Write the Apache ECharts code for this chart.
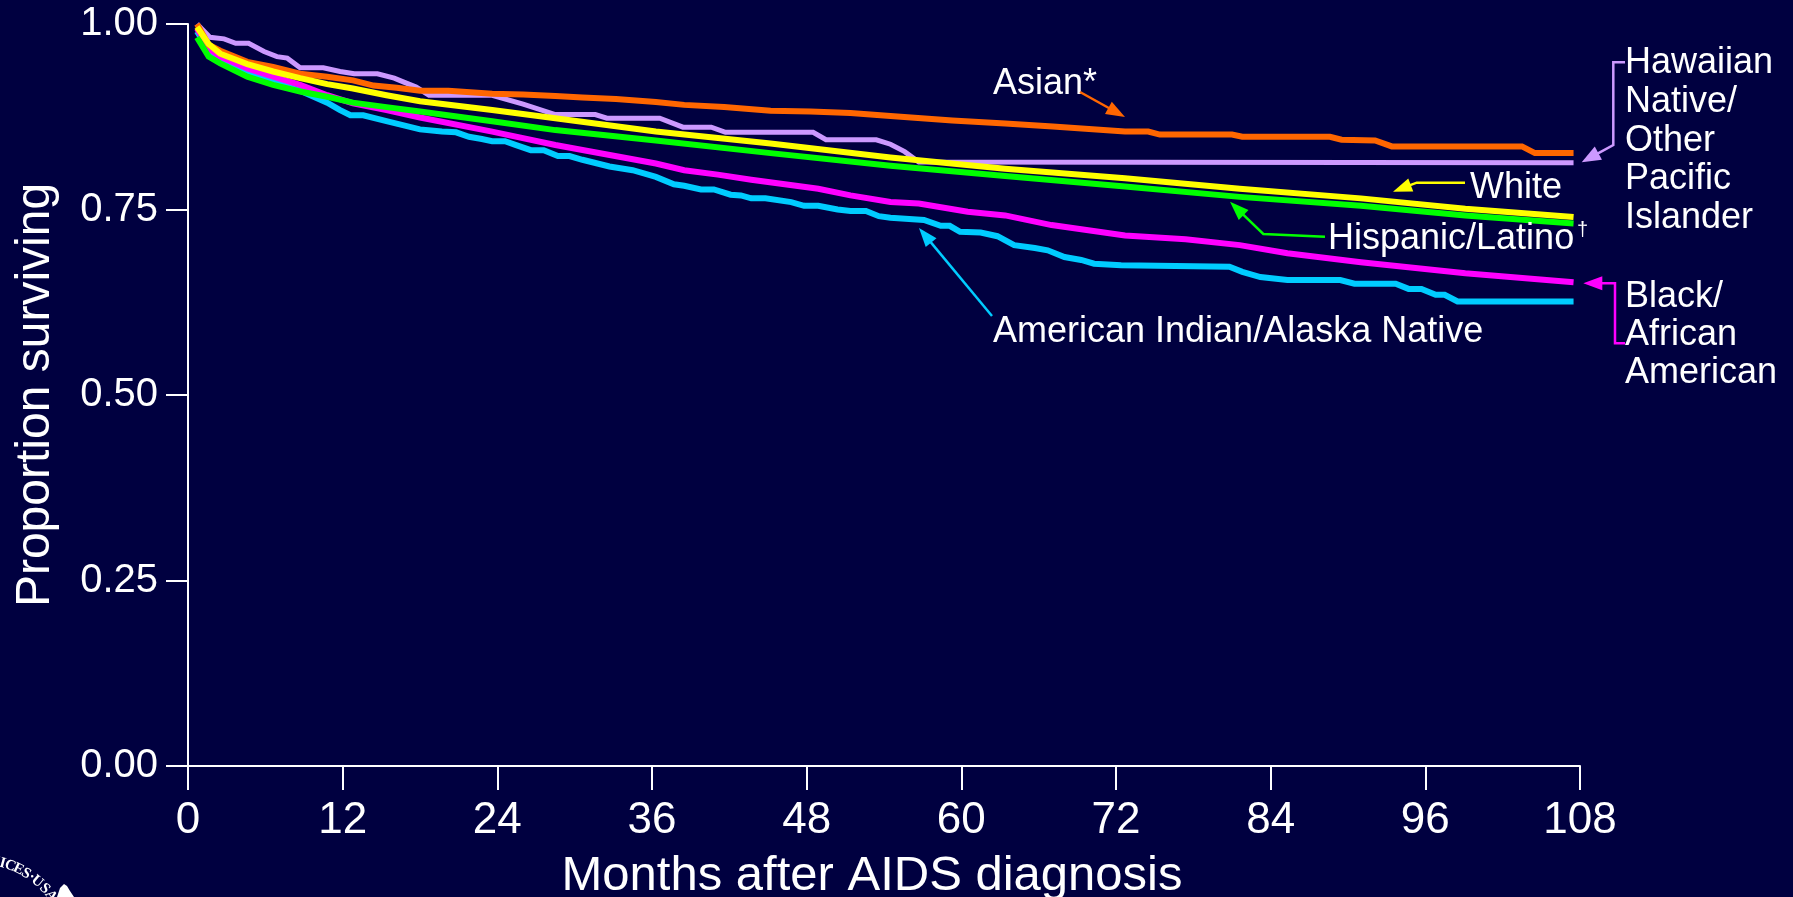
<!DOCTYPE html>
<html>
<head>
<meta charset="utf-8">
<script src="https://cdn.jsdelivr.net/npm/echarts@6/dist/echarts.min.js"></script>
<style>
html,body{margin:0;padding:0;background:#000040;}
#chart{width:1793px;height:897px;}
</style>
</head>
<body>
<div id="chart"></div>
<script>
// ---- data (months after diagnosis, proportion surviving) ----
const xTicks = [0, 12, 24, 36, 48, 60, 72, 84, 96, 108];
const yTicks = [0, 0.25, 0.5, 0.75, 1.0];

const asian = [[0.7,1.0],[1.6,0.972],[2.5,0.964],[4.6,0.949],[6.6,0.942],[8.7,0.933],[10.8,0.929],[12.8,0.924],[14.4,0.917],[16.2,0.914],[18,0.910],[20.2,0.910],[23.6,0.906],[26,0.905],[28.5,0.903],[30.6,0.901],[33.2,0.899],[36.3,0.895],[38.5,0.891],[41.6,0.888],[45.2,0.883],[48.3,0.882],[51.4,0.880],[54.5,0.876],[59.3,0.870],[63.4,0.866],[67.1,0.862],[72.7,0.855],[74.5,0.855],[75.4,0.851],[81,0.851],[81.8,0.848],[88.6,0.848],[89.5,0.844],[92.1,0.843],[93.4,0.835],[103.5,0.835],[104.5,0.826],[107.5,0.826]];

const hawaiian = [[0.7,1.0],[1.7,0.982],[2.8,0.980],[3.7,0.974],[4.7,0.974],[5.9,0.963],[6.9,0.956],[7.7,0.954],[8.7,0.941],[10.5,0.941],[11.8,0.936],[12.9,0.933],[14.7,0.933],[16,0.927],[16.7,0.922],[17.7,0.915],[18.7,0.904],[23.6,0.904],[26,0.892],[28.5,0.878],[31.6,0.878],[32.5,0.873],[36.6,0.873],[38.4,0.861],[40.6,0.861],[41.7,0.854],[48.5,0.854],[49.5,0.844],[53.4,0.844],[54.5,0.838],[55.6,0.828],[56.7,0.814],[107.5,0.813]];

const white = [[0.7,0.996],[1.6,0.973],[2.5,0.960],[4.6,0.946],[6.6,0.936],[8.7,0.927],[10.8,0.919],[12.8,0.913],[15.4,0.904],[18,0.896],[23.6,0.884],[28.5,0.873],[36.3,0.855],[45.2,0.839],[54.5,0.820],[63.4,0.805],[72.7,0.792],[81.6,0.778],[91,0.765],[99.1,0.751],[107.5,0.740]];

const hispanic = [[0.7,0.982],[1.6,0.956],[2.5,0.947],[4.6,0.929],[6.6,0.918],[8.7,0.909],[10.8,0.902],[12.8,0.894],[15.4,0.888],[18,0.882],[23.6,0.869],[28.5,0.857],[36.3,0.843],[45.2,0.826],[54.5,0.809],[63.4,0.795],[72.7,0.781],[81.6,0.767],[91,0.755],[99.1,0.742],[107.5,0.731]];

const black = [[0.7,0.994],[1.6,0.967],[2.5,0.956],[4.6,0.940],[6.6,0.929],[8.7,0.918],[10.8,0.904],[12.8,0.893],[15.4,0.884],[18,0.874],[23.6,0.855],[28.5,0.837],[36.3,0.812],[38.5,0.803],[41.1,0.797],[43.7,0.790],[48.9,0.778],[51.4,0.769],[54.5,0.760],[56.7,0.758],[60.5,0.747],[63.4,0.742],[67,0.729],[72.7,0.715],[77.4,0.710],[81.6,0.702],[85.3,0.691],[91,0.679],[99.1,0.664],[107.5,0.652]];

const amIndian = [[0.7,0.99],[1.6,0.965],[2.5,0.954],[4.6,0.937],[6.6,0.922],[8.7,0.910],[10.8,0.894],[11.8,0.884],[12.6,0.877],[13.6,0.877],[15.4,0.869],[18,0.858],[19.7,0.855],[20.8,0.854],[21.8,0.848],[22.8,0.845],[23.6,0.842],[24.6,0.842],[25.4,0.837],[26.6,0.830],[27.6,0.830],[28.7,0.822],[29.6,0.822],[30.6,0.817],[32.7,0.808],[34.5,0.803],[36.3,0.794],[37.7,0.784],[38.5,0.782],[39.8,0.777],[40.8,0.777],[42.1,0.770],[42.9,0.769],[43.7,0.765],[44.8,0.765],[46.8,0.760],[47.8,0.755],[48.9,0.755],[50.4,0.750],[51.4,0.748],[52.6,0.748],[53.6,0.741],[54.5,0.739],[57.1,0.736],[58.4,0.728],[59.1,0.728],[59.9,0.720],[61.5,0.719],[62.8,0.714],[64.1,0.702],[65.7,0.698],[66.7,0.695],[68,0.686],[69.3,0.682],[70.3,0.677],[72.4,0.675],[80.8,0.673],[81.8,0.666],[83.2,0.659],[85.3,0.655],[89.4,0.655],[90.5,0.650],[93.7,0.650],[94.7,0.643],[95.7,0.643],[96.8,0.635],[97.5,0.635],[98.5,0.626],[107.5,0.626]];

// ---- styling / annotations ----
const FONT = '"Liberation Sans", Arial, Helvetica, sans-serif';
const C = {
  asian: '#FF6600', hawaiian: '#CC99FF', white: '#FFFF00',
  hispanic: '#00FF00', black: '#FF00FF', amIndian: '#00CCFF'
};

function arrow(points, color, width, headLen, headW) {
  const n = points.length;
  const tip = points[n - 1], prev = points[n - 2];
  const dx = tip[0] - prev[0], dy = tip[1] - prev[1];
  const L = Math.sqrt(dx * dx + dy * dy);
  const ux = dx / L, uy = dy / L;
  const bx = tip[0] - ux * headLen, by = tip[1] - uy * headLen;
  const px = -uy, py = ux;
  const linePts = points.slice(0, n - 1).concat([[bx + ux * 2, by + uy * 2]]);
  return [
    { type: 'polyline', silent: true, z: 100,
      shape: { points: linePts },
      style: { stroke: color, lineWidth: width, fill: null } },
    { type: 'polygon', silent: true, z: 100,
      shape: { points: [tip, [bx + px * headW / 2, by + py * headW / 2], [bx - px * headW / 2, by - py * headW / 2]] },
      style: { fill: color } }
  ];
}

function label(text, x, yMid, size, lh, extra) {
  return Object.assign({
    type: 'text', silent: true, z: 100,
    style: {
      text: text, x: x, y: yMid, fill: '#ffffff',
      font: size + 'px ' + FONT, align: 'left', verticalAlign: 'middle',
      lineHeight: lh || size
    }
  }, extra || {});
}

const graphics = [];
graphics.push(label('Asian*', 993, 84, 36));
graphics.push(...arrow([[1080, 92], [1125, 117]], C.asian, 2.5, 19, 14));
graphics.push(label('White', 1470, 188.5, 36));
graphics.push(...arrow([[1465, 182.7], [1416.7, 182.7], [1393, 191.7]], C.white, 2.5, 19, 14));
graphics.push(label('Hispanic/Latino', 1328, 239.5, 36));
graphics.push(label('\u2020', 1577, 230, 20));
graphics.push(...arrow([[1325, 236.7], [1263.3, 234], [1230, 201.7]], C.hispanic, 2.5, 19, 14));
graphics.push(label('American Indian/Alaska Native', 993, 332.5, 36));
graphics.push(...arrow([[992, 316], [919, 228]], C.amIndian, 2.5, 19, 14));
graphics.push({
  type: 'text', silent: true, z: 100,
  style: { text: 'Hawaiian\nNative/\nOther\nPacific\nIslander', x: 1625, y: 44, fill: '#ffffff',
    font: '36px ' + FONT, align: 'left', verticalAlign: 'top', lineHeight: 38.7 }
});
graphics.push(...arrow([[1625, 62.3], [1613.3, 62.3], [1613.3, 145], [1581.7, 162.3]], C.hawaiian, 2.5, 19, 15));
graphics.push({
  type: 'text', silent: true, z: 100,
  style: { text: 'Black/\nAfrican\nAmerican', x: 1625, y: 277.5, fill: '#ffffff',
    font: '36px ' + FONT, align: 'left', verticalAlign: 'top', lineHeight: 38.3 }
});
graphics.push(...arrow([[1625, 343.3], [1615, 343.3], [1615, 283.3], [1583.3, 283.3]], C.black, 2.5, 19, 14));

// partial seal in the lower-left corner
const sealText = ['V', 'I', 'C', 'E', 'S', '\u00B7', 'U', 'S', 'A'];
const sealAngles = [10, 15.5, 20.5, 26, 31.5, 35.5, 40, 46.5, 52.5];
sealText.forEach(function (ch, i) {
  const th = sealAngles[i] * Math.PI / 180;
  const cx = -22, cy = 952, r = 92;
  graphics.push({
    type: 'text', silent: true, z: 100,
    x: cx + r * Math.sin(th), y: cy - r * Math.cos(th), rotation: -th,
    style: { text: ch, x: 0, y: 0, fill: '#ffffff', font: 'bold 15px "Liberation Serif", serif',
      align: 'center', verticalAlign: 'middle' }
  });
});
graphics.push({ type: 'polygon', silent: true, z: 100,
  shape: { points: [[57, 897], [60, 888], [64, 884], [67, 886], [70, 891], [74, 897]] },
  style: { fill: '#ffffff' } });

function lineSeries(name, data, color, width) {
  return {
    name: name, type: 'line', data: data, showSymbol: false, symbol: 'none',
    lineStyle: { color: color, width: width || 6, join: 'miter' },
    itemStyle: { color: color }, animation: false, silent: true
  };
}

const chart = echarts.init(document.getElementById('chart'));
chart.setOption({
  backgroundColor: '#000040',
  animation: false,
  grid: { left: 188, right: 213, top: 24, bottom: 131, containLabel: false, outerBoundsMode: 'none' },
  xAxis: {
    type: 'value', min: xTicks[0], max: xTicks[xTicks.length - 1], interval: 12,
    name: 'Months after AIDS diagnosis', nameLocation: 'middle', nameGap: 86,
    nameTextStyle: { color: '#ffffff', fontSize: 49, fontFamily: FONT, padding: [0, 24, 0, 0] },
    axisLine: { show: true, onZero: false, lineStyle: { color: '#ffffff', width: 2 } },
    axisTick: { show: true, length: 24, lineStyle: { color: '#ffffff', width: 2 } },
    axisLabel: { color: '#ffffff', fontSize: 44, fontFamily: FONT, margin: 33, showMinLabel: true, showMaxLabel: true },
    splitLine: { show: false }
  },
  yAxis: {
    type: 'value', min: yTicks[0], max: yTicks[yTicks.length - 1], interval: 0.25,
    name: 'Proportion surviving', nameLocation: 'middle', nameGap: 128,
    nameTextStyle: { color: '#ffffff', fontSize: 48, fontFamily: FONT },
    axisLine: { show: true, onZero: false, lineStyle: { color: '#ffffff', width: 2 } },
    axisTick: { show: true, length: 22, lineStyle: { color: '#ffffff', width: 2 } },
    axisLabel: { color: '#ffffff', fontSize: 40, fontFamily: FONT, margin: 30,
      formatter: function (v) { return v.toFixed(2); } },
    splitLine: { show: false }
  },
  series: [
    lineSeries('American Indian/Alaska Native', amIndian, C.amIndian),
    lineSeries('Black/African American', black, C.black),
    lineSeries('Hispanic/Latino', hispanic, C.hispanic),
    lineSeries('Hawaiian Native/Other Pacific Islander', hawaiian, C.hawaiian, 5),
    lineSeries('Asian', asian, C.asian),
    lineSeries('White', white, C.white)
  ],
  graphic: graphics
});
</script>
</body>
</html>
